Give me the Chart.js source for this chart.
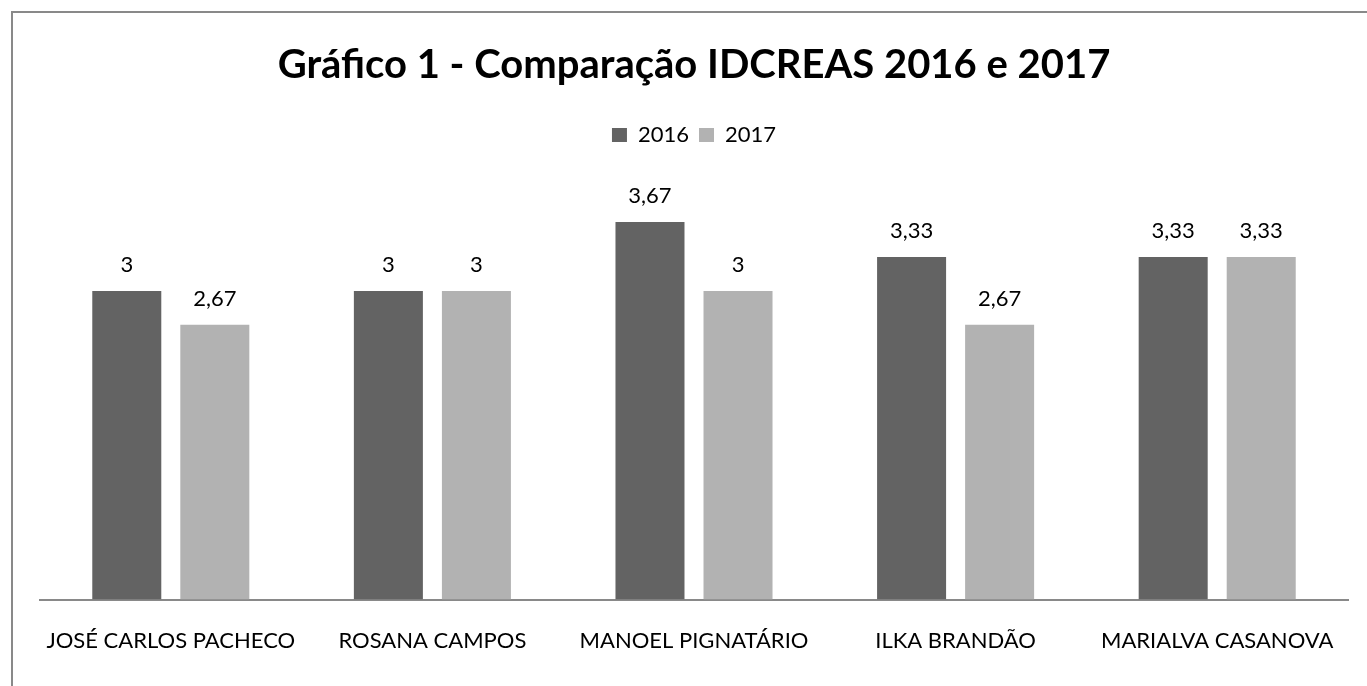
<!DOCTYPE html>
<html>
<head>
<meta charset="utf-8">
<script src="https://cdn.jsdelivr.net/npm/chart.js@4.4.1/dist/chart.umd.min.js"></script>
<style>
  html, body { margin: 0; padding: 0; background: #fff; overflow: hidden; }
  #frame { position: absolute; left: 11px; top: 11px; width: 1400px; height: 720px; border: 2px solid #898989; }
  #c { position: absolute; left: 0; top: 0; }
</style>
</head>
<body>
<div id="frame"></div>
<canvas id="c" width="1367" height="686"></canvas>
<script>
// Data
const categories = ['JOSÉ CARLOS PACHECO', 'ROSANA CAMPOS', 'MANOEL PIGNATÁRIO', 'ILKA BRANDÃO', 'MARIALVA CASANOVA'];
const values2016 = [3, 3, 3.67, 3.33, 3.33];
const values2017 = [2.67, 3, 3, 2.67, 3.33];

const FONT = 'Lato, "Open Sans", sans-serif';

// draws the value above each bar, decimal comma like the original
const valueLabels = {
  id: 'valueLabels',
  afterDatasetsDraw(chart) {
    const ctx = chart.ctx;
    ctx.save();
    ctx.font = '22px ' + FONT;
    ctx.fillStyle = '#000';
    ctx.textAlign = 'center';
    ctx.textBaseline = 'middle';
    chart.data.datasets.forEach((ds, i) => {
      chart.getDatasetMeta(i).data.forEach((bar, j) => {
        const txt = String(ds.data[j]).replace('.', ',');
        ctx.fillText(txt, bar.x, bar.y - 26);
      });
    });
    ctx.restore();
  }
};

// extra room under the legend
const legendGap = {
  id: 'legendGap',
  beforeInit(chart) {
    const fit = chart.legend.fit;
    chart.legend.fit = function () {
      fit.call(this);
      this.height += 32;
    };
  }
};

new Chart(document.getElementById('c'), {
  type: 'bar',
  data: {
    labels: categories,
    datasets: [
      { label: '2016', data: values2016, backgroundColor: '#636363' },
      { label: '2017', data: values2017, backgroundColor: '#b2b2b2' }
    ]
  },
  options: {
    responsive: false,
    animation: false,
    layout: { padding: { left: 40, right: 19, top: 0, bottom: 12 } },
    categoryPercentage: 0.673,
    barPercentage: 0.784,
    plugins: {
      title: {
        display: true,
        text: 'Gráfico 1 - Comparação IDCREAS 2016 e 2017',
        color: '#000',
        font: { family: FONT, size: 40, weight: 'bold' },
        padding: { top: 41, bottom: 25 }
      },
      legend: {
        display: true,
        labels: {
          color: '#000',
          font: { family: FONT, size: 22 },
          boxWidth: 15,
          boxHeight: 14,
          padding: 10
        }
      },
      tooltip: { enabled: false }
    },
    scales: {
      x: {
        grid: { display: false },
        border: { display: true, color: '#898989', width: 2 },
        ticks: { color: '#000', font: { family: FONT, size: 22 }, padding: 20, maxRotation: 0 }
      },
      y: {
        display: false,
        min: 0,
        max: 4
      }
    }
  },
  plugins: [valueLabels, legendGap]
});
</script>
</body>
</html>
